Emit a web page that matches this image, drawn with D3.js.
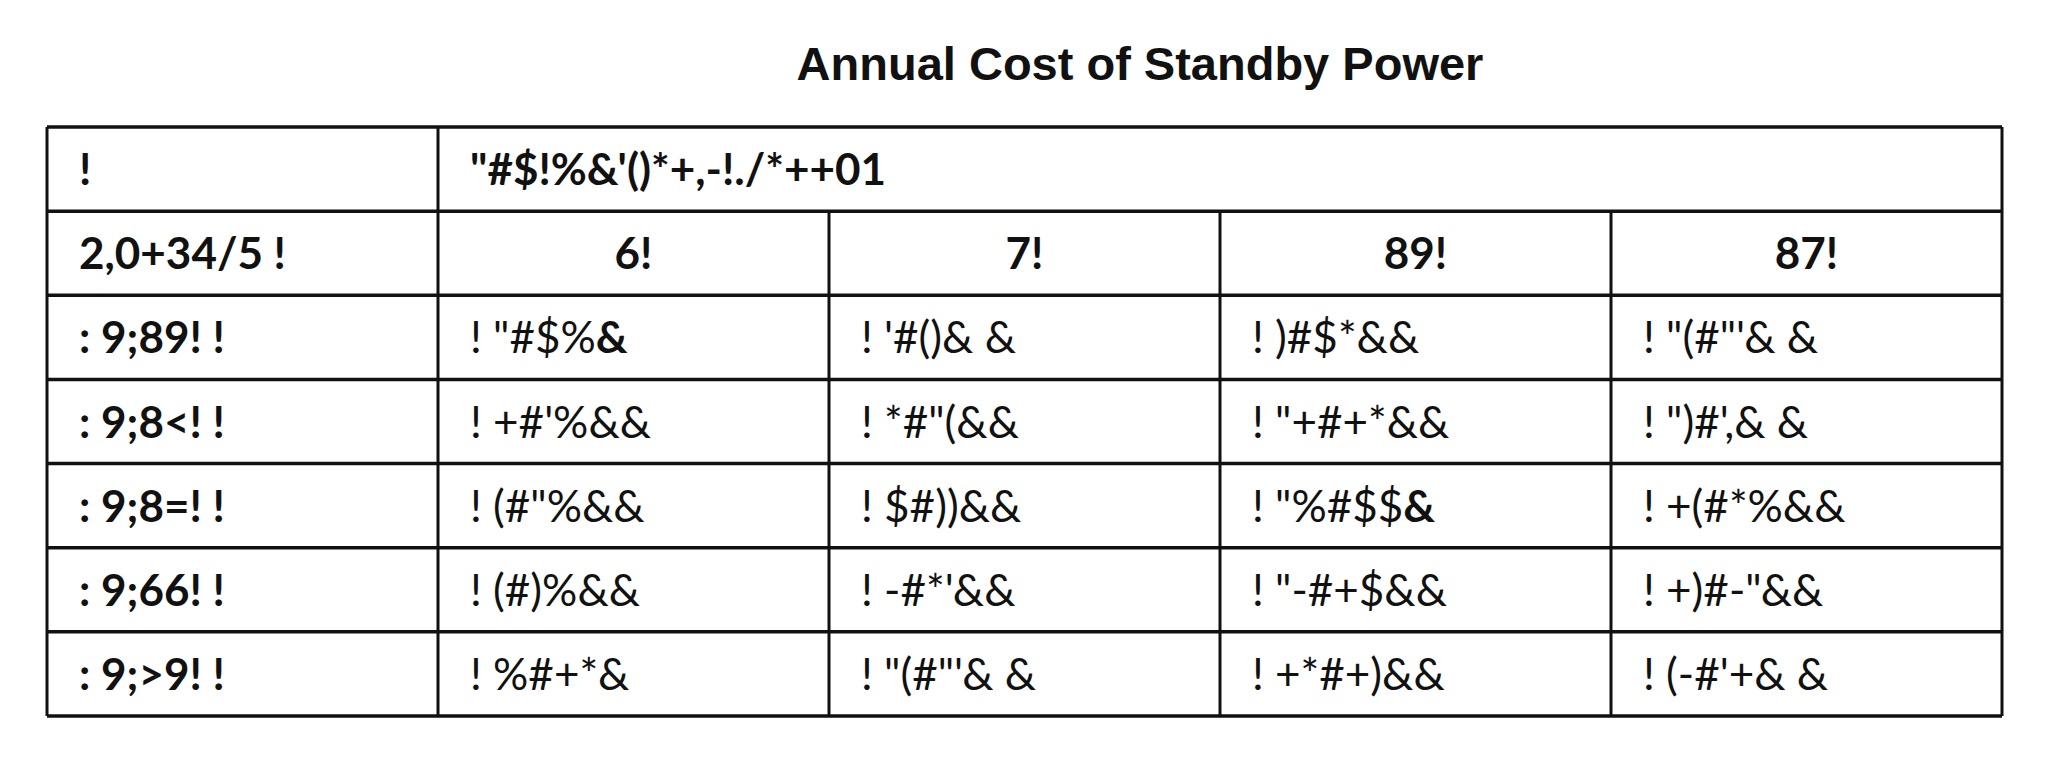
<!DOCTYPE html>
<html>
<head>
<meta charset="utf-8">
<script src="https://cdn.jsdelivr.net/npm/d3@7"></script>
<style>
  body { margin: 0; background: #fff; }
  svg text { fill: #111; }
</style>
</head>
<body>
<div id="chart"></div>
<script>
// table content (text as it appears in the reference, garbled glyphs kept)
const title = 'Annual Cost of Standby Power';
const spanHeader = ['!', '"#$!%&\'()*+,-!./*++01'];
const colHeaders = ['2,0+34/5  !', '6!', '7!', '89!', '87!'];
const rowLabels = [': 9;89! !', ': 9;8<! !', ': 9;8=! !', ': 9;66! !', ': 9;>9! !'];
const cellValues = [
  ['! "#$%&', '! \'#()& &', '! )#$*&&', '! "(#"\'& &'],
  ['! +#\'%&&', '! *#"(&&', '! "+#+*&&', '! ")#\',& &'],
  ['! (#"%&&', '! $#))&&', '! "%#$$&', '! +(#*%&&'],
  ['! (#)%&&', '! -#*\'&&', '! "-#+$&&', '! +)#-"&&'],
  ['! %#+*&', '! "(#"\'& &', '! +*#+)&&', '! (-#\'+& &']
];
// cells whose last "&" is printed bold
const boldTail = [[0, 0], [2, 2]];

const W = 2048, H = 764;
const svg = d3.select('#chart').append('svg').attr('width', W).attr('height', H);

const x = d3.scaleBand().domain(d3.range(5)).range([47, 2002]);
const y = d3.scaleBand().domain(d3.range(7)).range([127, 716]);
const font = 'Lato, "Open Sans", sans-serif';

svg.append('text')
  .attr('x', 1140).attr('y', 80)
  .attr('text-anchor', 'middle')
  .style('font-family', 'Liberation Sans, Arial, sans-serif')
  .style('font-weight', 'bold')
  .style('font-size', '47px')
  .text(title);

const g = svg.append('g');

// horizontal rules
g.selectAll('line.h')
  .data(d3.range(8))
  .enter().append('line')
  .attr('x1', x.range()[0]).attr('x2', x.range()[1])
  .attr('y1', d => d < 7 ? y(d) : y.range()[1])
  .attr('y2', d => d < 7 ? y(d) : y.range()[1])
  .style('stroke', '#111').style('stroke-width', 3.5);

// vertical rules (inner ones skip the spanning first row)
g.selectAll('line.v')
  .data(d3.range(6))
  .enter().append('line')
  .attr('x1', d => d < 5 ? x(d) : x.range()[1])
  .attr('x2', d => d < 5 ? x(d) : x.range()[1])
  .attr('y1', d => (d === 0 || d === 1 || d === 5) ? y(0) : y(1))
  .attr('y2', y.range()[1])
  .style('stroke', '#111').style('stroke-width', 3);

const baseY = r => y(r) + y.bandwidth() / 2 + 16;

// row 0: spanning header
g.selectAll('text.span')
  .data(spanHeader)
  .enter().append('text')
  .attr('x', (d, i) => x(i) + 32)
  .attr('y', baseY(0))
  .style('font-family', font).style('font-weight', 'bold').style('font-size', '44px')
  .text(d => d);

// row 1: column headers
g.selectAll('text.col')
  .data(colHeaders)
  .enter().append('text')
  .attr('x', (d, i) => i === 0 ? x(0) + 32 : x(i) + x.bandwidth() / 2)
  .attr('text-anchor', (d, i) => i === 0 ? 'start' : 'middle')
  .attr('y', baseY(1))
  .style('font-family', font).style('font-weight', 'bold').style('font-size', '44px')
  .text(d => d);

// row labels
g.selectAll('text.row')
  .data(rowLabels)
  .enter().append('text')
  .attr('x', x(0) + 32)
  .attr('y', (d, i) => baseY(i + 2))
  .style('font-family', font).style('font-weight', 'bold').style('font-size', '44px')
  .text(d => d);

// data cells
cellValues.forEach((row, r) => {
  row.forEach((v, c) => {
    const t = g.append('text')
      .attr('x', x(c + 1) + 32)
      .attr('y', baseY(r + 2))
      .style('font-family', font).style('font-size', '44px');
    const bold = boldTail.some(b => b[0] === r && b[1] === c);
    if (bold) {
      t.append('tspan').text(v.slice(0, -1));
      t.append('tspan').style('font-weight', 'bold').text(v.slice(-1));
    } else {
      t.text(v);
    }
  });
});
</script>
</body>
</html>
